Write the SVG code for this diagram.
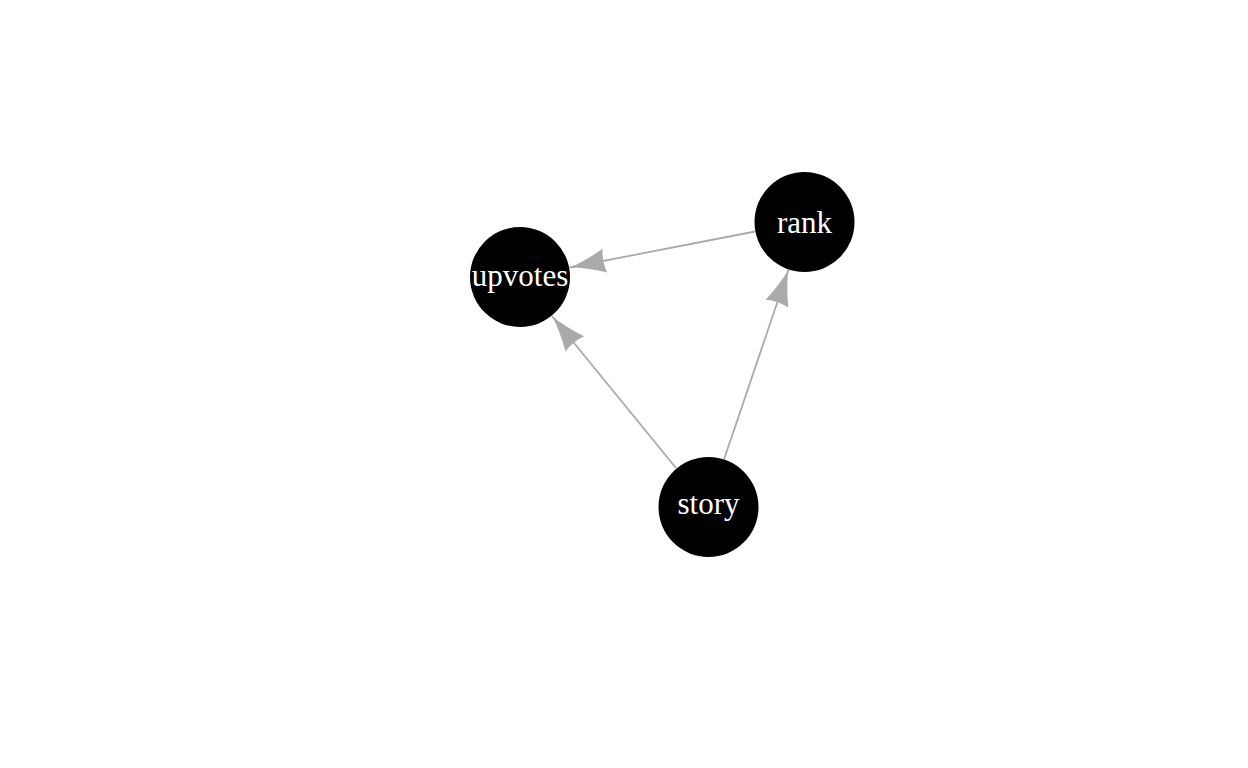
<svg xmlns="http://www.w3.org/2000/svg" width="1248" height="768" viewBox="0 0 1248 768">
  <style>
    .edge { stroke: #aaaaaa; stroke-width: 1.8; fill: none; }
    .node circle { fill: #000000; }
    .node text { fill: #ffffff; font-family: "Liberation Serif", "Times New Roman", serif; font-size: 31px; text-anchor: middle; }
  </style>
  <defs>
    <marker id="arrow" markerUnits="userSpaceOnUse" viewBox="-40 -15 40 30" refX="0" refY="0" markerWidth="40" markerHeight="30" orient="auto">
      <path d="M0,0 Q-16,-3 -36,-12 Q-33,0 -36,12 Q-16,3 0,0 Z" fill="#aaaaaa"/>
    </marker>
  </defs>
  <rect width="1248" height="768" fill="#ffffff"/>

  <g id="connectors">
    <line class="edge" x1="755" y1="231.5" x2="569.5" y2="267.5" marker-end="url(#arrow)"/>
    <line class="edge" x1="676" y1="468" x2="552" y2="316" marker-end="url(#arrow)"/>
    <line class="edge" x1="724" y1="459.5" x2="788.5" y2="269.5" marker-end="url(#arrow)"/>
  </g>

  <g id="node-upvotes" class="node">
    <circle cx="520" cy="277" r="50"/>
    <text x="520" y="286">upvotes</text>
  </g>
  <g id="node-rank" class="node">
    <circle cx="804.5" cy="222" r="50"/>
    <text x="804.5" y="233">rank</text>
  </g>
  <g id="node-story" class="node">
    <circle cx="708.5" cy="507" r="50"/>
    <text x="708.5" y="514">story</text>
  </g>
</svg>
